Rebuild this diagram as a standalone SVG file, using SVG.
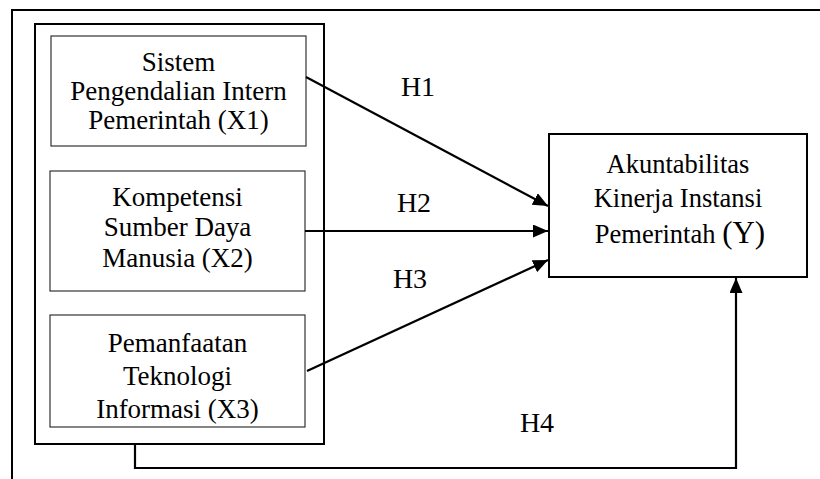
<svg xmlns="http://www.w3.org/2000/svg" width="820" height="479" viewBox="0 0 820 479">
<style>
.t{font-family:"Liberation Serif","Times New Roman",serif;font-size:27px;fill:#000;text-anchor:middle}
.ty{font-family:"Liberation Serif","Times New Roman",serif;font-size:26.5px;fill:#000;text-anchor:middle}
.lbl{font-family:"Liberation Serif","Times New Roman",serif;font-size:28px;fill:#000;text-anchor:middle}
.frame{fill:none;stroke:#000;stroke-width:2}
.box{fill:#fff;stroke:#333;stroke-width:1.2}
.conn{fill:none;stroke:#000;stroke-width:2.2}
</style>
<defs>
<marker id="ah" markerUnits="userSpaceOnUse" markerWidth="16" markerHeight="14" refX="15" refY="6.5" orient="auto">
<path d="M0,0 L15,6.5 L0,13 z" fill="#000"/>
</marker>
</defs>
<rect width="820" height="479" fill="#fff"/>
<rect id="outer" class="frame" x="12" y="10" width="820" height="480"/>
<g id="group-x">
<rect class="frame" x="35" y="24" width="289" height="420"/>
</g>
<g id="x1">
<rect class="box" x="51" y="36" width="255" height="110"/>
<text class="t" x="178.5" y="71">Sistem</text>
<text class="t" x="178.5" y="100">Pengendalian Intern</text>
<text class="t" x="178.5" y="129">Pemerintah (X1)</text>
</g>
<g id="x2">
<rect class="box" x="50" y="171" width="255" height="120"/>
<text class="t" x="177.5" y="206">Kompetensi</text>
<text class="t" x="177.5" y="236">Sumber Daya</text>
<text class="t" x="177.5" y="267">Manusia (X2)</text>
</g>
<g id="x3">
<rect class="box" x="50" y="315" width="255" height="112"/>
<text class="t" x="177.5" y="352">Pemanfaatan</text>
<text class="t" x="177.5" y="385">Teknologi</text>
<text class="t" x="177.5" y="418">Informasi (X3)</text>
</g>
<g id="y">
<rect class="frame" x="549" y="134" width="258" height="143" fill="#fff"/>
<text class="ty" x="678" y="173">Akuntabilitas</text>
<text class="ty" x="678" y="207">Kinerja Instansi</text>
<text class="ty" x="680" y="243">Pemerintah <tspan font-size="31">(Y)</tspan></text>
</g>
<g id="connectors">
<line class="conn" x1="306" y1="77" x2="548" y2="206" marker-end="url(#ah)"/>
<line class="conn" x1="305" y1="231" x2="548" y2="231" marker-end="url(#ah)"/>
<line class="conn" x1="307" y1="371" x2="548" y2="260" marker-end="url(#ah)"/>
<polyline class="conn" points="135,444 135,468 736,468 736,278" marker-end="url(#ah)"/>
<text class="lbl" x="418" y="96">H1</text>
<text class="lbl" x="414" y="212">H2</text>
<text class="lbl" x="410" y="288">H3</text>
<text class="lbl" x="537" y="432">H4</text>
</g>
</svg>
